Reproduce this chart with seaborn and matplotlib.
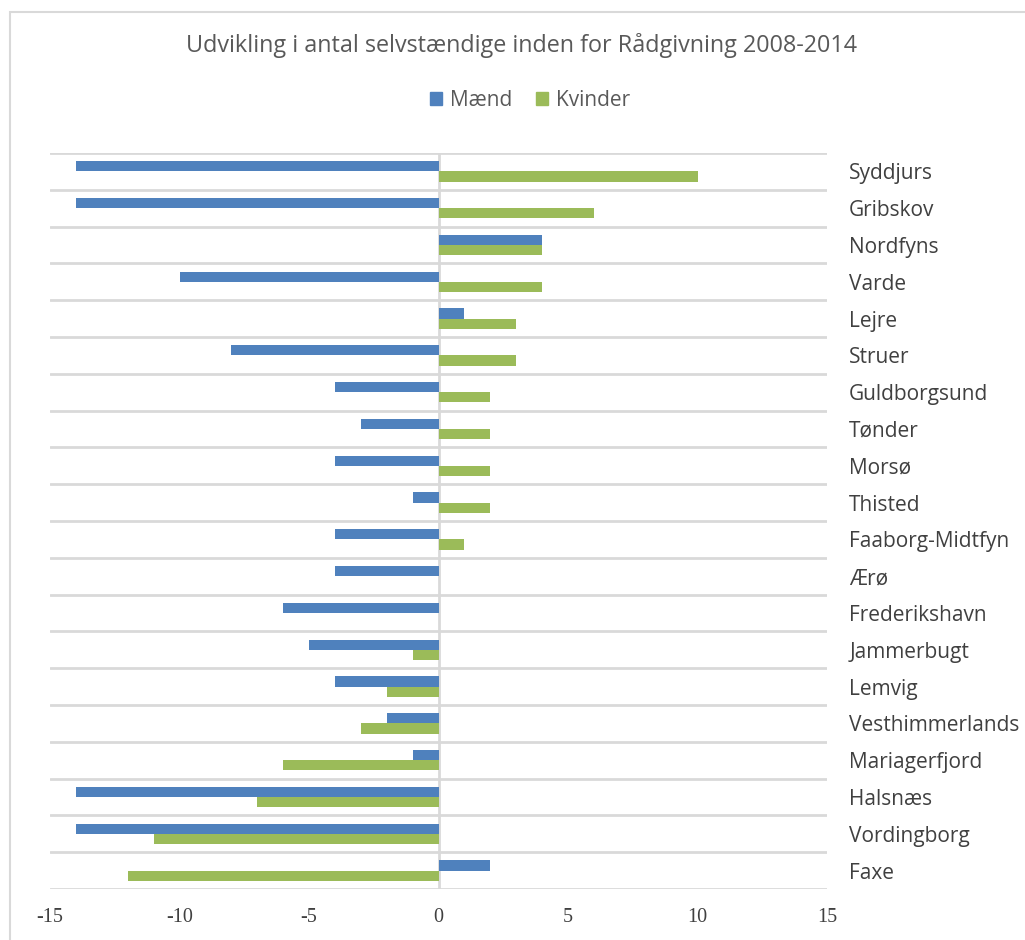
import matplotlib
matplotlib.use("Agg")
import matplotlib.pyplot as plt
import seaborn as sns
import pandas as pd
from matplotlib.patches import Rectangle

municipalities = ["Syddjurs", "Gribskov", "Nordfyns", "Varde", "Lejre", "Struer",
                  "Guldborgsund", "Tønder", "Morsø", "Thisted", "Faaborg-Midtfyn",
                  "Ærø", "Frederikshavn", "Jammerbugt", "Lemvig", "Vesthimmerlands",
                  "Mariagerfjord", "Halsnæs", "Vordingborg", "Faxe"]
maend = [-14, -14, 4, -10, 1, -8, -4, -3, -4, -1, -4, -4, -6, -5, -4, -2, -1, -14, -14, 2]
kvinder = [10, 6, 4, 4, 3, 3, 2, 2, 2, 2, 1, 0, 0, -1, -2, -3, -6, -7, -11, -12]
series_names = ["Mænd", "Kvinder"]
x_ticks = [-15, -10, -5, 0, 5, 10, 15]
title = "Udvikling i antal selvstændige inden for Rådgivning 2008-2014"

df = pd.DataFrame({
    "Kommune": municipalities * 2,
    "Værdi": maend + kvinder,
    "Køn": [series_names[0]] * len(municipalities) + [series_names[1]] * len(municipalities),
})

sns.set_style("white")
plt.rcParams["font.family"] = ["Open Sans", "DejaVu Sans"]

W, H = 1025, 940
fig = plt.figure(figsize=(W / 100, H / 100), dpi=100)
ax = fig.add_axes([50 / W, 1 - 889 / H, (827 - 50) / W, (889 - 153) / H])

palette = {"Mænd": "#4F81BD", "Kvinder": "#9BBB59"}
sns.barplot(data=df, x="Værdi", y="Kommune", hue="Køn", order=municipalities,
            hue_order=series_names, palette=palette, orient="h", width=0.55,
            saturation=1, ax=ax, legend=False, zorder=3, linewidth=0)

ax.set_xlim(-15, 15)
ax.set_ylim(len(municipalities) - 0.5, -0.5)
ax.set_xticks(x_ticks)
ax.set_xticklabels([str(t) for t in x_ticks], family="Liberation Serif",
                   fontsize=14.5, color="#404040")
ax.tick_params(axis="x", length=0, pad=14)

# category gridlines at boundaries
for b in range(len(municipalities) + 1):
    ax.axhline(b - 0.5, color="#D9D9D9", lw=2, zorder=1)
ax.axvline(0, color="#D9D9D9", lw=2, zorder=2)

ax.yaxis.tick_right()
ax.set_yticks(range(len(municipalities)))
ax.set_yticklabels(municipalities, fontsize=15, color="#404040")
ax.tick_params(axis="y", length=0, pad=16)
for lab in ax.get_yticklabels():
    lab.set_horizontalalignment("left")
    lab.set_y(lab.get_position()[1])

ax.set_xlabel("")
ax.set_ylabel("")
for s in ax.spines.values():
    s.set_visible(False)

# chart border
fig.patches.append(Rectangle((10 / W, -0.1), 1.2, 1 - 12 / H + 0.1,
                             transform=fig.transFigure, fill=False,
                             edgecolor="#D9D9D9", lw=1.5, zorder=0))

fig.text(522 / W, 1 - 45 / H, title, ha="center", va="center",
         fontsize=16.8, color="#595959")

handles = [Rectangle((0, 0), 1, 1, color=palette[n]) for n in series_names]
fig.legend(handles, series_names, loc="center", bbox_to_anchor=(530 / W, 1 - 100 / H),
           ncol=2, frameon=False, fontsize=15, handlelength=0.6, handleheight=0.6,
           handletextpad=0.4, columnspacing=1.1, labelcolor="#595959")

fig.savefig("out.png", dpi=100)
